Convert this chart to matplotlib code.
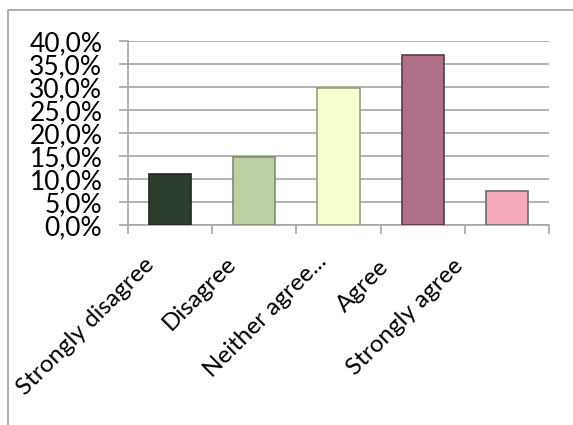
import matplotlib
matplotlib.use("Agg")
import matplotlib.pyplot as plt
import matplotlib.transforms as mtransforms
from matplotlib.lines import Line2D
from matplotlib.ticker import FuncFormatter, MultipleLocator

# data
categories = ["Strongly disagree", "Disagree", "Neither agree...", "Agree", "Strongly agree"]
values = [11.1, 14.8, 29.7, 37.0, 7.4]
fills = ["#2C3E2E", "#BDD2A2", "#F5FFCC", "#B07089", "#F5A9BA"]
edges = ["#1E2A1F", "#7F8C70", "#9A9E80", "#5C3A48", "#6E6E6E"]

# small pixel nudges so the rotated labels sit where Excel put them
label_dx = [-27, -29, -23, -45, -55]
label_dy = [15, 14, 12, 17, 16]

plt.rcParams["font.family"] = ["Lato", "DejaVu Sans"]

fig = plt.figure(figsize=(5.73, 4.25), dpi=100)
ax = fig.add_axes([128 / 573, 1 - 225 / 425, (549 - 128) / 573, (225 - 41) / 425])

x = range(len(categories))
ax.bar(x, values, width=0.5, color=fills, edgecolor=edges, linewidth=1.2, zorder=3)

ax.set_xlim(-0.5, len(categories) - 0.5)
ax.set_ylim(0, 40)
ax.yaxis.set_major_locator(MultipleLocator(5))
ax.yaxis.set_major_formatter(FuncFormatter(lambda v, p: f"{v:.1f}%".replace(".", ",")))
ax.grid(True, axis="y", color="#A6A6A6", linewidth=1.2, zorder=0)

# category ticks sit between bars, like Excel
ax.set_xticks([i - 0.5 for i in range(len(categories) + 1)], minor=False)
ax.set_xticklabels([])
ax.set_xticks(list(x), minor=True)
ax.set_xticklabels(categories, minor=True, rotation=45, ha="right",
                   rotation_mode="anchor", fontsize=17.5)
ax.tick_params(axis="x", which="minor", length=0, pad=10)
ax.tick_params(axis="x", which="major", length=6.5, color="#A6A6A6", width=1.2)
ax.tick_params(axis="y", length=6.5, color="#A6A6A6", width=1.2, labelsize=19, pad=12, direction="out")

fig.canvas.draw()
for lbl, dx, dy in zip(ax.get_xticklabels(minor=True), label_dx, label_dy):
    off = mtransforms.ScaledTranslation(dx / 100, -dy / 100, fig.dpi_scale_trans)
    lbl.set_transform(lbl.get_transform() + off)

for side in ["top", "right"]:
    ax.spines[side].set_visible(False)
for side in ["left", "bottom"]:
    ax.spines[side].set_color("#A6A6A6")
    ax.spines[side].set_linewidth(1.2)

# chart-area border (only left and top edges are in frame)
bx, by = 8 / 573, 1 - 10 / 425
fig.add_artist(Line2D([bx, bx, 1.0], [0.0, by, by], transform=fig.transFigure,
                      color="#A0A0A0", linewidth=1.2))

fig.savefig("out.png", dpi=100)
